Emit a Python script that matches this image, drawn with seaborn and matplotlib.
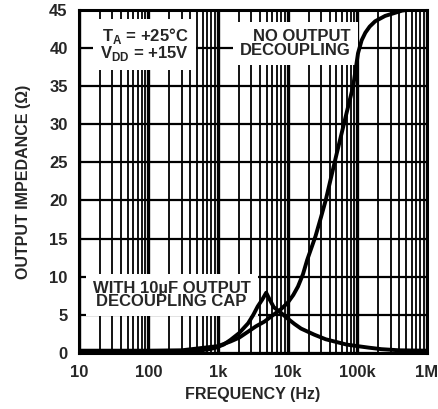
#!/usr/bin/env python3
import numpy as np
import pandas as pd
import seaborn as sns
import matplotlib
matplotlib.use("Agg")
import matplotlib.pyplot as plt
import matplotlib.ticker as mticker

# curve values (frequency in Hz, impedance in ohms)
freq_none = [10, 100, 300, 1000, 1500, 2000, 2700, 3500, 4600, 6000, 7900, 10000,
             12000, 14000, 16500, 19000, 25000, 30000, 35000, 50000, 70000, 87000,
             102000, 115000, 130000, 150000, 180000, 250000, 440000, 1000000]
imp_none = [0.3, 0.3, 0.35, 0.9, 1.5, 2.0, 2.8, 3.5, 4.1, 4.9, 5.7, 6.6,
            7.6, 8.7, 10.3, 12.2, 15.3, 17.8, 20.0, 26.0, 31.5, 35.0,
            39.3, 41.0, 42.0, 42.8, 43.5, 44.2, 44.9, 45.3]

freq_cap = [10, 100, 500, 700, 900, 1200, 1500, 2000, 2700, 3200, 3700, 4300, 4900,
            5500, 6300, 7900, 10000, 12500, 15500, 24000, 35000, 47000, 70000,
            100000, 145000, 220000, 400000, 1000000]
imp_cap = [0.2, 0.2, 0.3, 0.45, 0.65, 1.1, 1.7, 2.6, 3.9, 5.0, 6.1, 7.0, 7.9,
           7.0, 6.0, 5.3, 4.5, 3.8, 3.2, 2.4, 1.8, 1.5, 1.1,
           0.9, 0.7, 0.5, 0.35, 0.3]

x_ticks = [10, 100, 1000, 10000, 100000, 1000000]
x_tick_labels = ["10", "100", "1k", "10k", "100k", "1M"]
y_ticks = [0, 5, 10, 15, 20, 25, 30, 35, 40, 45]


def build_frame():
    df_none = pd.DataFrame({"Frequency": freq_none, "Impedance": imp_none, "Curve": "none"})
    df_cap = pd.DataFrame({"Frequency": freq_cap, "Impedance": imp_cap, "Curve": "cap"})
    return pd.concat([df_none, df_cap], ignore_index=True)


def plot_chart(df):
    sns.set_style("white")
    plt.rcParams["font.family"] = ["Liberation Sans", "DejaVu Sans"]
    plt.rcParams["font.weight"] = "bold"
    plt.rcParams["axes.labelweight"] = "bold"
    plt.rcParams["mathtext.fontset"] = "custom"
    plt.rcParams["mathtext.rm"] = "Liberation Sans:bold"

    fig = plt.figure(figsize=(4.38, 4.09), dpi=100)
    ax = fig.add_axes([0.180, 0.137, 0.795, 0.839])

    sns.lineplot(
        ax=ax,
        data=df,
        x="Frequency",
        y="Impedance",
        units="Curve",
        estimator=None,
        color="black",
        linewidth=2.8,
        sort=False,
        zorder=5,
    )

    ax.set_xscale("log")
    ax.set_xlim(10, 1000000)
    ax.set_ylim(0, 45)

    # heavy printed grid
    ax.xaxis.set_minor_locator(mticker.LogLocator(base=10, subs=np.arange(2, 10)))
    ax.xaxis.set_minor_formatter(mticker.NullFormatter())
    ax.set_xticks(x_ticks)
    ax.set_xticklabels(x_tick_labels)
    ax.set_yticks(y_ticks)
    ax.grid(which="major", axis="x", color="black", linewidth=2.4)
    ax.grid(which="minor", axis="x", color="black", linewidth=1.3)
    ax.grid(which="major", axis="y", color="black", linewidth=1.6)
    ax.set_axisbelow(True)
    ax.tick_params(which="both", length=0, labelsize=12)
    ax.tick_params(axis="x", pad=9)
    ax.tick_params(axis="y", pad=8)

    for spine in ax.spines.values():
        spine.set_color("black")
        spine.set_linewidth(2.2)

    ax.set_xlabel("FREQUENCY (Hz)", fontsize=11.5, labelpad=5)
    ax.set_ylabel("OUTPUT IMPEDANCE (Ω)", fontsize=11.5, labelpad=13)

    box = dict(facecolor="white", edgecolor="none", pad=5)
    ax.text(380, 40.4, "T$_\\mathregular{A}$ = +25°C\nV$_\\mathregular{DD}$ = +15V",
            ha="right", va="center", fontsize=12, linespacing=0.85, bbox=box, zorder=3)
    ax.text(80000, 40.6, "NO OUTPUT\nDECOUPLING", ha="right", va="center",
            multialignment="right", fontsize=12, linespacing=0.95, bbox=box, zorder=3)
    ax.text(215, 7.6, "WITH 10µF OUTPUT\nDECOUPLING CAP", ha="center", va="center",
            fontsize=12, linespacing=0.85, bbox=box, zorder=3)

    fig.savefig("out.png", dpi=100)


def main():
    df = build_frame()
    plot_chart(df)


if __name__ == "__main__":
    main()
